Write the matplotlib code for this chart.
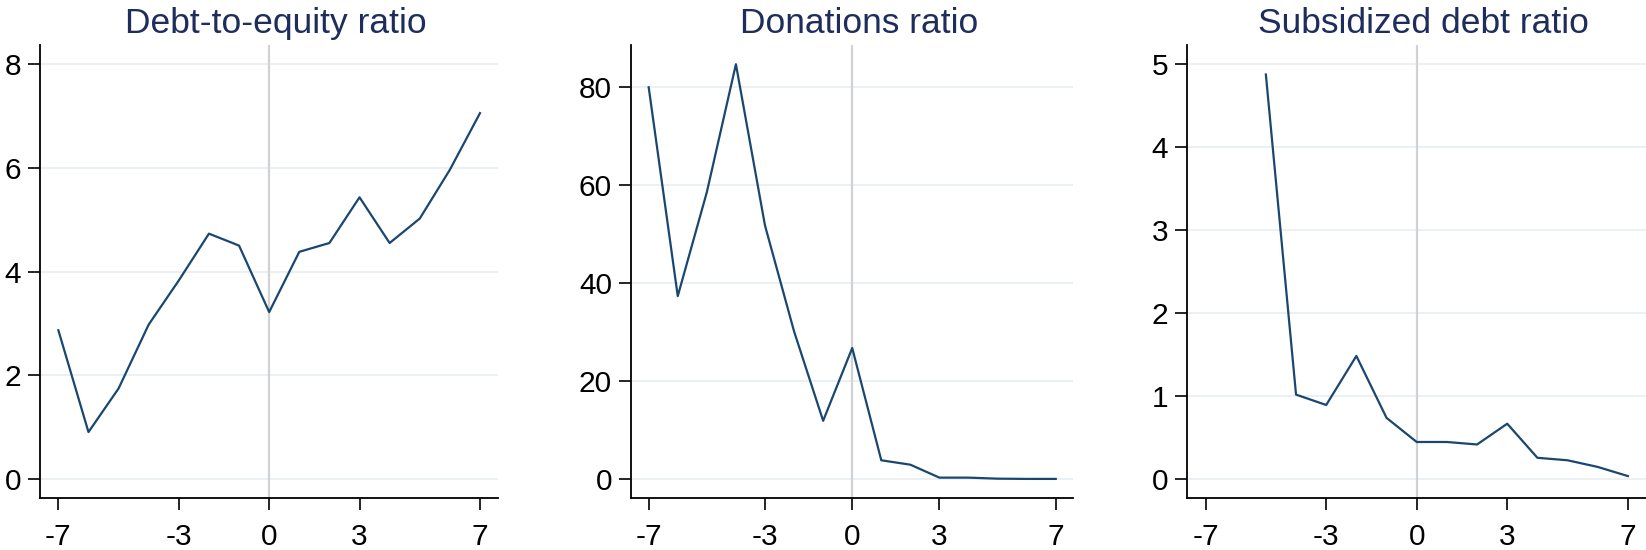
import numpy as np
import matplotlib
matplotlib.use("Agg")
import matplotlib.pyplot as plt
from matplotlib.transforms import ScaledTranslation

plt.rcParams['font.family'] = ['Liberation Sans', 'DejaVu Sans']

years = [-7, -6, -5, -4, -3, -2, -1, 0, 1, 2, 3, 4, 5, 6, 7]

debt_to_equity = [2.87, 0.91, 1.75, 2.98, 3.83, 4.73, 4.50, 3.22, 4.38, 4.55,
                  5.43, 4.55, 5.02, 5.96, 7.05]
donations = [80.0, 37.4, 58.6, 84.7, 51.8, 30.2, 11.95, 26.8, 3.9, 3.0,
             0.36, 0.36, 0.15, 0.1, 0.1]
subsidized_debt = [np.nan, np.nan, 4.87, 1.02, 0.895, 1.485, 0.74, 0.45, 0.45,
                   0.42, 0.67, 0.26, 0.23, 0.15, 0.04]

titles = ["Debt-to-equity ratio", "Donations ratio", "Subsidized debt ratio"]
series = [debt_to_equity, donations, subsidized_debt]
x_ticks = [-7, -3, 0, 3, 7]
y_ticks = [[0, 2, 4, 6, 8], [0, 20, 40, 60, 80], [0, 1, 2, 3, 4, 5]]
y_limits = [(-0.36, 8.36), (-3.8, 88.6), (-0.224, 5.224)]

line_color = "#1a476f"
title_color = "#1e2d5c"
grid_color = "#e8eff3"
zero_color = "#d2d2d2"

fig = plt.figure(figsize=(16.46, 5.5), dpi=100)
boxes = [
    (0.02448, 0.0945, 0.2781, 0.8235),
    (0.3835, 0.0945, 0.2685, 0.8235),
    (0.7214, 0.0945, 0.2786, 0.8235),
]

for box, title, vals, yt, yl in zip(boxes, titles, series, y_ticks, y_limits):
    ax = fig.add_axes(box)
    ax.set_xlim(-7.6, 7.6)
    ax.set_ylim(*yl)
    ax.set_yticks(yt)
    ax.set_xticks(x_ticks)
    ax.set_xticklabels([str(t) for t in x_ticks])
    ax.grid(axis='y', color=grid_color, linewidth=1.3)
    ax.set_axisbelow(True)
    ax.axvline(0, color=zero_color, linewidth=1.6, zorder=1)
    ax.plot(years, vals, color=line_color, linewidth=1.6, zorder=3)
    for s in ("top", "right"):
        ax.spines[s].set_visible(False)
    for s in ("left", "bottom"):
        ax.spines[s].set_linewidth(1.3)
        ax.spines[s].set_color("black")
    ax.tick_params(axis='y', length=8.4, width=1.2, labelsize=21.5, pad=5.5)
    ax.tick_params(axis='x', length=8.6, width=1.2, labelsize=21.5, pad=9.5)
    t = ax.set_title(title, color=title_color, fontsize=25.5, pad=9)
    # nudge the title slightly right, as in the plot region's centring
    t.set_transform(t.get_transform() + ScaledTranslation(0.07, 0, fig.dpi_scale_trans))

fig.savefig("out.png", dpi=100)
